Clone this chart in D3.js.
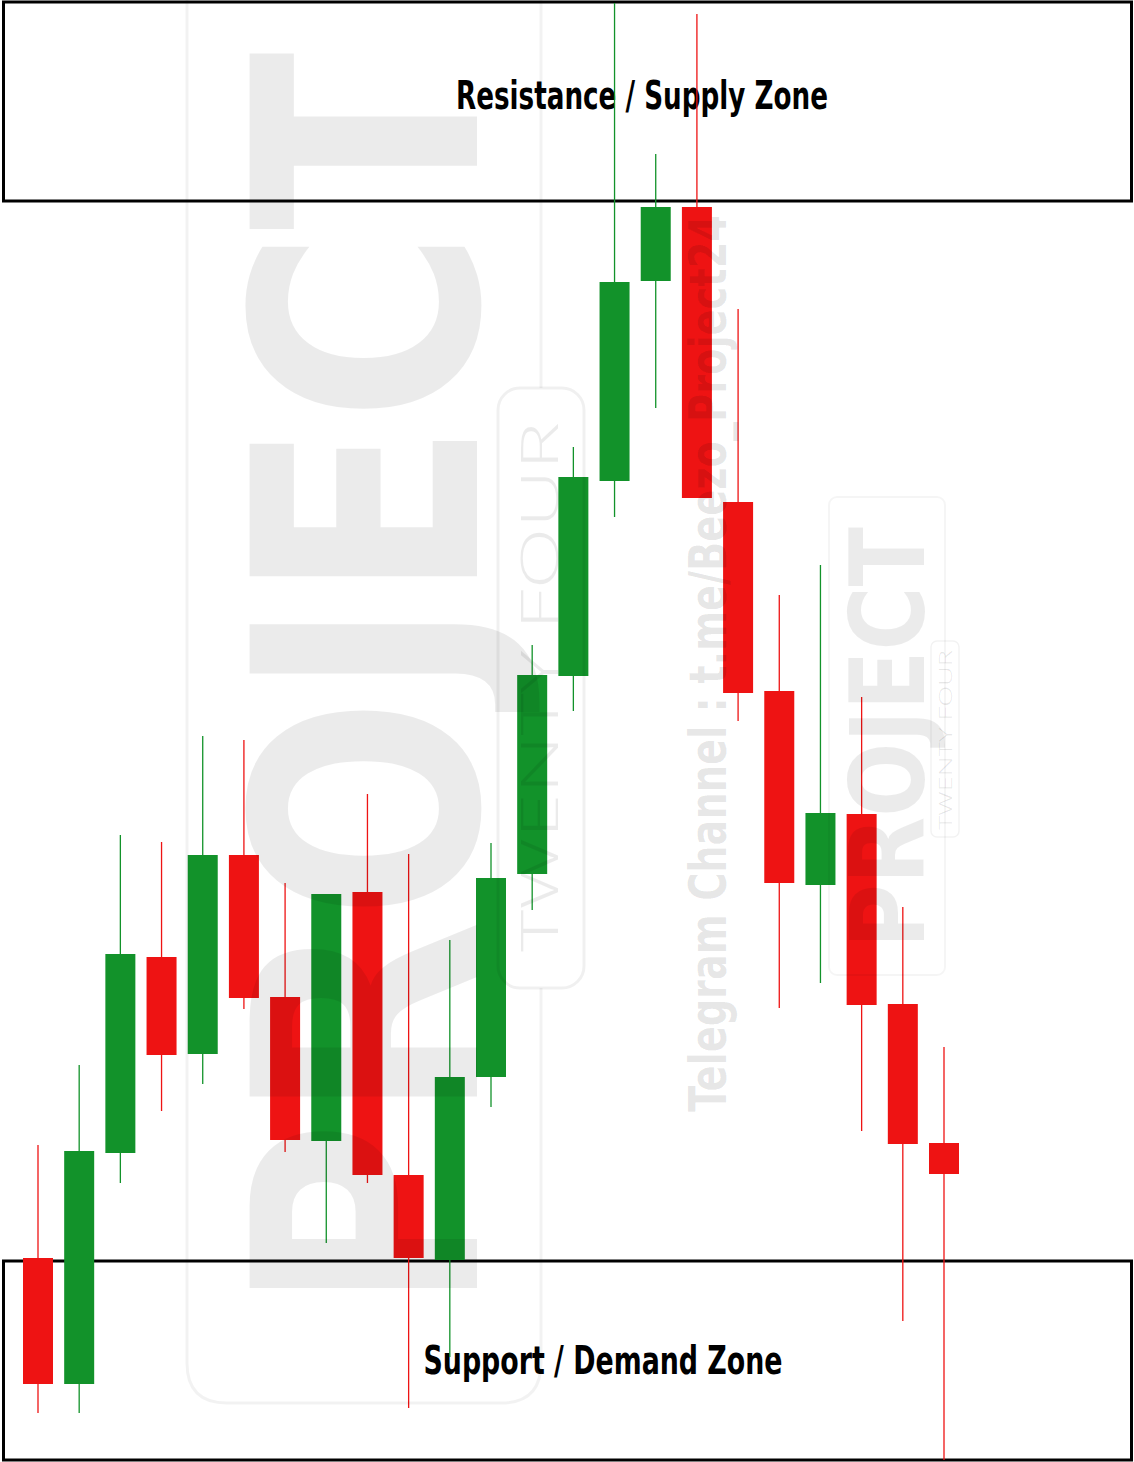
<!DOCTYPE html>
<html>
<head>
<meta charset="utf-8">
<script src="https://cdn.jsdelivr.net/npm/d3@7"></script>
<style>
  body { margin: 0; background: #fff; }
  svg { display: block; }
</style>
</head>
<body>
<script>
// Candle data (price units)
let bars = d3.range(1, 24).map(i => "Bar " + i);
let opens  = [20.4, 7.8, 30.9, 50.5, 40.8, 60.7, 46.5, 32.1, 57.0, 28.7, 20.2, 38.5, 58.8, 78.6, 98.1, 118.1, 125.5, 96.0, 77.1, 57.7, 64.8, 45.8, 31.9];
let closes = [7.8, 31.1, 50.8, 40.7, 60.7, 46.4, 32.2, 56.8, 28.7, 20.4, 38.5, 58.4, 78.7, 98.5, 118.0, 125.5, 96.4, 76.9, 57.9, 64.9, 45.7, 31.8, 28.8];
let highs  = [31.7, 39.7, 62.7, 62.0, 72.6, 72.2, 57.9, 56.8, 66.8, 60.8, 52.2, 61.9, 81.7, 101.5, 145.9, 130.8, 144.8, 115.3, 86.7, 89.7, 76.5, 55.5, 41.5];
let lows   = [4.9, 4.9, 27.9, 35.1, 37.8, 45.3, 31.0, 21.9, 27.9, 5.4, 10.5, 35.5, 55.2, 75.1, 94.5, 105.4, 96.4, 74.1, 45.4, 47.9, 33.1, 14.1, 0.2];

// Zones
let zoneLabels = ["Resistance / Supply Zone", "Support / Demand Zone"];
let zoneHighs = [146.0, 20.1];
let zoneLows = [126.1, 0.2];

let width = 1134, height = 1462;
let green = "#12922a", red = "#ee1313";

let svg = d3.select("body").append("svg")
    .attr("width", width)
    .attr("height", height);

svg.append("rect").attr("width", width).attr("height", height).attr("fill", "#fff");

let x = d3.scalePoint().domain(bars).range([38, 944]);
let y = d3.scaleLinear().domain([0, 146.2]).range([height, 0]);
let bodyW = 30;

let candles = bars.map((b, i) => ({ bar: b, o: opens[i], c: closes[i], h: highs[i], l: lows[i] }));
let zones = zoneLabels.map((z, i) => ({ label: z, hi: zoneHighs[i], lo: zoneLows[i] }));

// zone boxes
let labelX = [642, 603];
svg.selectAll(".zone")
    .data(zones)
    .enter().append("rect")
    .attr("class", "zone")
    .attr("x", 3.5)
    .attr("width", 1128)
    .attr("y", d => y(d.hi))
    .attr("height", d => y(d.lo) - y(d.hi))
    .attr("fill", "none")
    .attr("stroke", "#000")
    .attr("stroke-width", 3);

svg.selectAll(".zone-label")
    .data(zones)
    .enter().append("text")
    .attr("class", "zone-label")
    .attr("x", (d, i) => labelX[i])
    .attr("y", (d, i) => (y(d.hi) + y(d.lo)) / 2 + (i === 0 ? 7 : 13))
    .attr("text-anchor", "middle")
    .attr("textLength", (d, i) => i === 0 ? 372 : 359)
    .attr("lengthAdjust", "spacingAndGlyphs")
    .style("font-family", "'Liberation Sans Narrow', 'DejaVu Sans Condensed', sans-serif")
    .style("font-weight", "bold")
    .style("font-size", "39px")
    .style("fill", "#000")
    .text(d => d.label);

// wicks
svg.selectAll(".wick")
    .data(candles)
    .enter().append("line")
    .attr("class", "wick")
    .attr("x1", d => x(d.bar))
    .attr("x2", d => x(d.bar))
    .attr("y1", d => y(d.h))
    .attr("y2", d => y(d.l))
    .attr("stroke", d => d.c >= d.o ? green : red)
    .attr("stroke-width", 1.3);

// bodies
svg.selectAll(".body")
    .data(candles)
    .enter().append("rect")
    .attr("class", "body")
    .attr("x", d => x(d.bar) - bodyW / 2)
    .attr("width", bodyW)
    .attr("y", d => y(Math.max(d.o, d.c)))
    .attr("height", d => Math.max(1, Math.abs(y(d.o) - y(d.c))))
    .attr("fill", d => d.c >= d.o ? green : red);

// faint watermark on top
let wm = svg.append("g").attr("class", "watermark").style("pointer-events", "none");

wm.append("path")
    .attr("d", "M187,-10 L187,1363 Q187,1403 227,1403 L501,1403 Q541,1403 541,1363 L541,988 M541,388 L541,-10")
    .attr("fill", "none").attr("stroke", "#000").attr("stroke-opacity", 0.05).attr("stroke-width", 3);
wm.append("rect")
    .attr("x", 498).attr("y", 388).attr("width", 86).attr("height", 600).attr("rx", 22)
    .attr("fill", "none").attr("stroke", "#000").attr("stroke-opacity", 0.06).attr("stroke-width", 3);
wm.append("text")
    .attr("transform", "translate(477,1312) rotate(-90) scale(1,1.3)")
    .attr("textLength", 1260).attr("lengthAdjust", "spacingAndGlyphs")
    .style("font-family", "'DejaVu Sans', sans-serif").style("font-weight", "bold")
    .style("font-size", "240px").style("fill", "#000").style("fill-opacity", 0.08)
    .text("PROJECT");
wm.append("text")
    .attr("transform", "translate(558,952) rotate(-90)")
    .attr("textLength", 530).attr("lengthAdjust", "spacingAndGlyphs")
    .style("font-family", "'Open Sans', sans-serif").style("font-weight", "300")
    .style("font-size", "52px").style("fill", "#000").style("fill-opacity", 0.08)
    .text("TWENTY FOUR");

wm.append("rect")
    .attr("x", 829).attr("y", 497).attr("width", 116).attr("height", 478).attr("rx", 8)
    .attr("fill", "none").attr("stroke", "#000").attr("stroke-opacity", 0.04).attr("stroke-width", 2);
wm.append("rect")
    .attr("x", 931).attr("y", 641).attr("width", 28).attr("height", 196).attr("rx", 6)
    .attr("fill", "none").attr("stroke", "#000").attr("stroke-opacity", 0.05).attr("stroke-width", 1.5);
wm.append("text")
    .attr("transform", "translate(924,948) rotate(-90) scale(1,1.3)")
    .attr("textLength", 421).attr("lengthAdjust", "spacingAndGlyphs")
    .style("font-family", "'DejaVu Sans', sans-serif").style("font-weight", "bold")
    .style("font-size", "80px").style("fill", "#000").style("fill-opacity", 0.08)
    .text("PROJECT");
wm.append("text")
    .attr("transform", "translate(952,830) rotate(-90)")
    .attr("textLength", 180).attr("lengthAdjust", "spacingAndGlyphs")
    .style("font-family", "'Open Sans', sans-serif").style("font-weight", "300")
    .style("font-size", "19px").style("fill", "#000").style("fill-opacity", 0.1)
    .text("TWENTY FOUR");

wm.append("text")
    .attr("transform", "translate(726,1112) rotate(-90)")
    .attr("textLength", 897).attr("lengthAdjust", "spacingAndGlyphs")
    .style("font-family", "'Liberation Sans Narrow', 'DejaVu Sans Condensed', sans-serif").style("font-weight", "bold")
    .style("font-size", "52px").style("fill", "#000").style("fill-opacity", 0.1)
    .text("Telegram Channel : t.me/Beezo_Project24");
</script>
</body>
</html>
